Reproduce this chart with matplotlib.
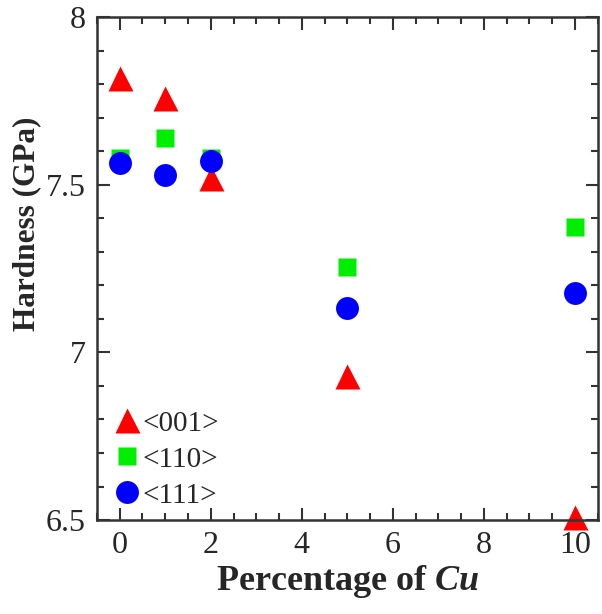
import numpy as np
import matplotlib
matplotlib.use("Agg")
import matplotlib.pyplot as plt
from matplotlib.ticker import MultipleLocator

plt.rcParams['font.family'] = ['Liberation Serif', 'DejaVu Serif']
plt.rcParams['mathtext.fontset'] = 'custom'
plt.rcParams['mathtext.it'] = 'Liberation Serif:italic:bold'
plt.rcParams['mathtext.rm'] = 'Liberation Serif:bold'

# percentage of Cu
cu_pct = [0, 1, 2, 5, 10]

# hardness (GPa) per orientation
h_001 = [7.82, 7.76, 7.52, 6.93, 6.51]
h_110 = [7.58, 7.64, 7.58, 7.255, 7.373]
h_111 = [7.565, 7.53, 7.57, 7.132, 7.177]

labels = ["<001>", "<110>", "<111>"]

TXT = "#262626"

fig = plt.figure(figsize=(6.02, 6.14), dpi=100)
ax = fig.add_axes([0.161, 0.153, 0.832, 0.819])

ax.plot(cu_pct, h_001, linestyle="none", marker="^", ms=18, color="#ff0000",
        mec="none", label=labels[0], clip_on=False)
ax.plot(cu_pct, h_110, linestyle="none", marker="s", ms=12.5, color="#00ee00",
        mec="none", label=labels[1], clip_on=False)
ax.plot(cu_pct, h_111, linestyle="none", marker="o", ms=16.5, color="#0000ff",
        mec="none", label=labels[2], clip_on=False)

ax.set_xlim(-0.5, 10.5)
ax.set_ylim(6.5, 8)
ax.xaxis.set_major_locator(MultipleLocator(2))
ax.xaxis.set_minor_locator(MultipleLocator(0.5))
ax.yaxis.set_major_locator(MultipleLocator(0.5))
ax.yaxis.set_minor_locator(MultipleLocator(0.1))
ax.set_yticks([6.5, 7, 7.5, 8])
ax.set_yticklabels(["6.5", "7", "7.5", "8"])

ax.tick_params(which="both", direction="in", top=True, right=True,
               color="#333333", width=1.5, labelsize=23, labelcolor=TXT, pad=8)
ax.tick_params(which="major", length=9)
ax.tick_params(which="minor", length=5)
for sp in ax.spines.values():
    sp.set_linewidth(1.8)
    sp.set_color("#333333")

ax.set_xlabel(r"Percentage of $\mathit{Cu}$", fontsize=26, fontweight="bold",
              color=TXT, labelpad=2)
ax.set_ylabel("Hardness (GPa)", fontsize=22.5, fontweight="bold", color=TXT)
ax.yaxis.set_label_coords(-0.112, 0.59)

leg = ax.legend(loc="lower left", bbox_to_anchor=(-0.005, -0.012), frameon=False,
                fontsize=21, handlelength=1.0, handletextpad=0.05,
                labelspacing=0.33, borderaxespad=0.2)
for t in leg.get_texts():
    t.set_color(TXT)

fig.savefig("out.png", dpi=100)
